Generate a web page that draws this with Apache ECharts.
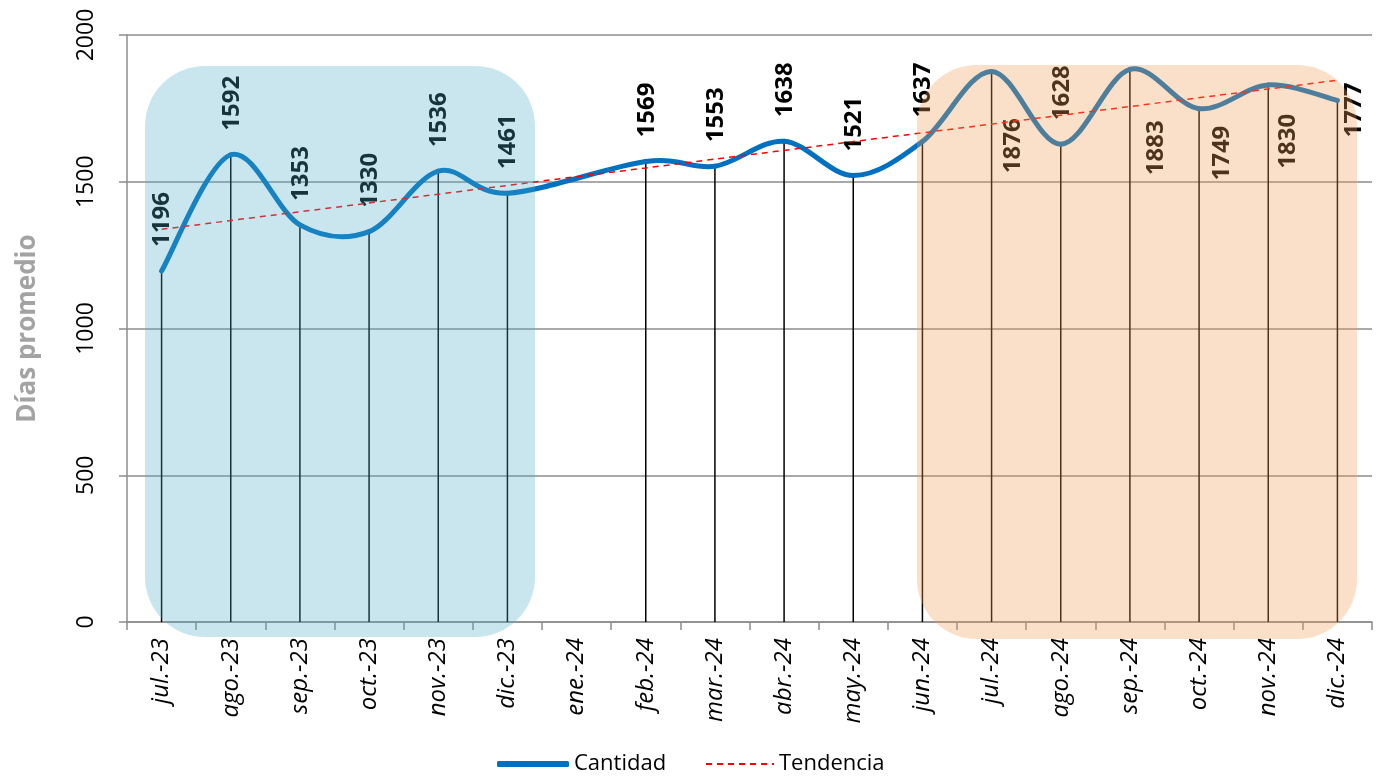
<!DOCTYPE html>
<html>
<head>
<meta charset="utf-8">
<script src="https://cdn.jsdelivr.net/npm/echarts@6/dist/echarts.min.js"></script>
<style>
  html, body { margin: 0; padding: 0; background: #fff; }
  #chart { width: 1385px; height: 778px; }
</style>
</head>
<body>
<div id="chart"></div>
<script>
const months = ['jul.-23', 'ago.-23', 'sep.-23', 'oct.-23', 'nov.-23', 'dic.-23', 'ene.-24', 'feb.-24', 'mar.-24',
  'abr.-24', 'may.-24', 'jun.-24', 'jul.-24', 'ago.-24', 'sep.-24', 'oct.-24', 'nov.-24', 'dic.-24'];
const cantidad = [1196, 1592, 1353, 1330, 1536, 1461, null, 1569, 1553, 1638, 1521, 1637, 1876, 1628, 1883, 1749, 1830, 1777];
// trend line ends
const tendencia = [1338, null, null, null, null, null, null, null, null, null, null, null, null, null, null, null, null, 1846];
const yTicks = { min: 0, max: 2000, interval: 500 };

const FONT = 'Open Sans';
const BLUE = '#0070c0';

// labels that sit below / beside the point instead of above it
const labelMoves = {
  12: { align: 'right', offset: [-47, 22] },
  14: { align: 'right', offset: [-51, 26] },
  15: { align: 'right', offset: [-17, 23] },
  16: { align: 'right', offset: [-29, 20] },
  17: { align: 'left', offset: [-37, 17] }
};

const dropData = cantidad.map((v, i) => {
  if (v == null) return null;
  const item = { value: v };
  if (labelMoves[i]) item.label = labelMoves[i];
  return item;
});

// smooth curve like the spreadsheet one (catmull-rom through the points)
function renderCurve(params, api) {
  if (params.dataIndex !== 0) return null;
  const pts = [];
  cantidad.forEach((v, i) => { if (v != null) pts.push(api.coord([i, v])); });
  const children = [];
  for (let i = 0; i < pts.length - 1; i++) {
    const p0 = pts[i - 1] || pts[i];
    const p1 = pts[i];
    const p2 = pts[i + 1];
    const p3 = pts[i + 2] || pts[i + 1];
    children.push({
      type: 'bezierCurve',
      shape: {
        x1: p1[0], y1: p1[1],
        cpx1: p1[0] + (p2[0] - p0[0]) / 6, cpy1: p1[1] + (p2[1] - p0[1]) / 6,
        cpx2: p2[0] - (p3[0] - p1[0]) / 6, cpy2: p2[1] - (p3[1] - p1[1]) / 6,
        x2: p2[0], y2: p2[1]
      },
      style: { stroke: BLUE, lineWidth: 5, fill: null, lineCap: 'round' }
    });
  }
  return { type: 'group', children: children };
}

const chart = echarts.init(document.getElementById('chart'));

const legendText = { fontFamily: FONT, fontSize: 22, color: '#000' };

chart.setOption({
  animation: false,
  backgroundColor: '#fff',
  grid: { left: 127, right: 13, top: 35, bottom: 156, containLabel: false },
  legend: [
    {
      data: ['Cantidad'],
      left: 492,
      top: 748,
      icon: 'roundRect',
      itemWidth: 72,
      itemHeight: 6,
      textStyle: legendText
    },
    {
      data: ['Tendencia'],
      left: 700,
      top: 748,
      itemWidth: 68,
      itemHeight: 2,
      textStyle: legendText
    }
  ],
  xAxis: {
    type: 'category',
    data: months,
    boundaryGap: true,
    axisLine: { lineStyle: { color: '#8c8c8c', width: 1.5 } },
    axisTick: { show: true, length: 8, alignWithLabel: false, lineStyle: { color: '#8c8c8c', width: 1.5 } },
    axisLabel: {
      rotate: 90,
      margin: 16,
      interval: 0,
      fontFamily: FONT,
      fontSize: 24,
      fontStyle: 'italic',
      color: '#000'
    },
    splitLine: { show: false }
  },
  yAxis: {
    type: 'value',
    min: yTicks.min,
    max: yTicks.max,
    interval: yTicks.interval,
    name: 'Días promedio',
    nameLocation: 'middle',
    nameGap: 86,
    nameTextStyle: { fontFamily: FONT, fontSize: 26, fontWeight: 'bold', color: '#a3a3a3' },
    axisLine: { show: true, lineStyle: { color: '#8c8c8c', width: 1.5 } },
    axisTick: { show: true, length: 8, lineStyle: { color: '#8c8c8c', width: 1.5 } },
    axisLabel: {
      rotate: 90,
      margin: 29,
      fontFamily: FONT,
      fontSize: 23,
      color: '#000',
      formatter: v => String(v)
    },
    splitLine: { lineStyle: { color: '#8c8c8c', width: 1.5 } }
  },
  series: [
    {
      name: 'drop',
      type: 'bar',
      data: dropData,
      barWidth: 1.5,
      itemStyle: { color: '#000' },
      label: {
        show: true,
        position: 'top',
        distance: 0,
        rotate: 90,
        align: 'left',
        verticalAlign: 'middle',
        offset: [24, 1],
        fontFamily: FONT,
        fontSize: 24,
        fontWeight: 'bold',
        color: '#000'
      },
      silent: true
    },
    {
      name: 'Cantidad',
      type: 'custom',
      data: cantidad.map((v, i) => [i, v == null ? 0 : v]),
      encode: { x: 0, y: 1 },
      renderItem: renderCurve,
      itemStyle: { color: BLUE },
      z: 3,
      silent: true
    },
    {
      name: 'Tendencia',
      type: 'line',
      data: tendencia,
      connectNulls: true,
      symbol: 'none',
      lineStyle: { color: '#ff0000', width: 1.5, type: [6, 5] },
      itemStyle: { color: '#ff0000' },
      z: 4,
      silent: true
    }
  ],
  graphic: [
    {
      type: 'rect',
      z: 100,
      silent: true,
      shape: { x: 145, y: 66, width: 390, height: 571, r: 60 },
      style: { fill: 'rgba(75,172,198,0.3)' }
    },
    {
      type: 'rect',
      z: 100,
      silent: true,
      shape: { x: 917, y: 65, width: 440, height: 574, r: 60 },
      style: { fill: 'rgba(240,160,85,0.32)' }
    }
  ]
});
</script>
</body>
</html>
